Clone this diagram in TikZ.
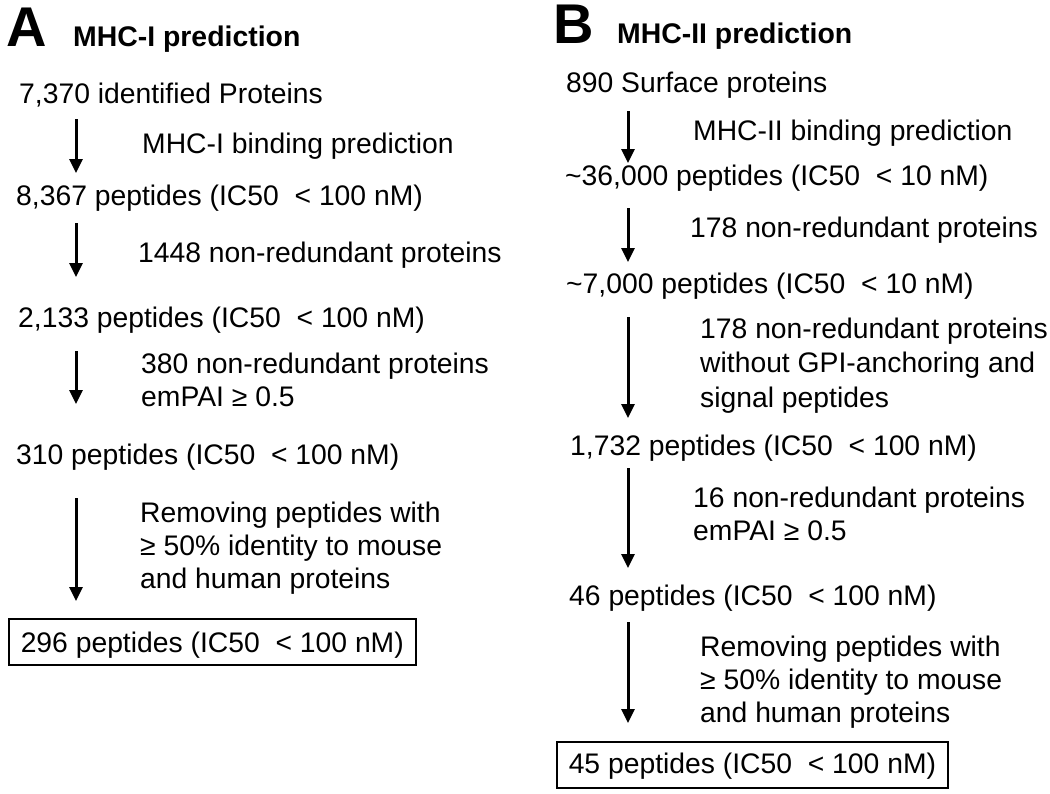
\documentclass[tikz,border=0pt]{standalone}
\usepackage{fontspec}
\setmainfont{Liberation Sans}
\usetikzlibrary{arrows.meta,calc}
\begin{document}
\begin{tikzpicture}[x=1pt,y=-1pt,
  txt/.style={anchor=base west,inner sep=0pt,font=\fontsize{28.3}{33}\selectfont,align=left},
  ttl/.style={anchor=base west,inner sep=0pt,font=\fontsize{28.4}{33}\selectfont\bfseries},
  panel/.style={anchor=base west,inner sep=0pt,font=\fontsize{56}{60}\selectfont\bfseries},
  arr/.style={-{Triangle[width=13pt,length=14pt]},line width=3pt},
  resbox/.style={draw,line width=1.5pt,anchor=base west,inner xsep=12pt,inner ysep=0pt,font=\fontsize{28.3}{33}\selectfont}]
\useasboundingbox (0,0) rectangle (1050,793);
\coordinate (axA) at (76,0);
\coordinate (axB) at (628,0);
% Panel A
\node[panel] (pA) at (6,46) {A};
\node[ttl] (tA) at (73,46) {MHC-I prediction};
\node[txt] (a1) at (19,103) {7,370 identified Proteins};
\node[txt] (la1) at (142,153) {MHC-I binding prediction};
\node[txt] (a2) at (16,205) {8,367 peptides (IC50\ \ < 100 nM)};
\node[txt] (la2) at (138,262) {1448 non-redundant proteins};
\node[txt] (a3) at (18,327) {2,133 peptides (IC50\ \ < 100 nM)};
\node[txt] (la3) at (141,406) {380 non-redundant proteins\\emPAI ≥ 0.5};
\node[txt] (a4) at (16,464) {310 peptides (IC50\ \ < 100 nM)};
\node[txt] (la4) at (140,588) {Removing peptides with\\≥ 50\% identity to mouse\\and human proteins};
\node[resbox,text height=33pt,text depth=13pt] (a5) at (8,652) {296 peptides (IC50\ \ < 100 nM)};
\draw[arr] ($(a1.base -| axA)+(0,16)$) -- ($(a2.base -| axA)+(0,-32)$);
\draw[arr] ($(a2.base -| axA)+(0,18)$) -- ($(a3.base -| axA)+(0,-50)$);
\draw[arr] ($(a3.base -| axA)+(0,24)$) -- ($(a4.base -| axA)+(0,-60)$);
\draw[arr] ($(a4.base -| axA)+(0,34)$) -- ($(a5.base -| axA)+(0,-51)$);
% Panel B
\node[panel] (pB) at (553,43) {B};
\node[ttl] (tB) at (617,43) {MHC-II prediction};
\node[txt] (b1) at (566,92) {890 Surface proteins};
\node[txt] (lb1) at (693,140) {MHC-II binding prediction};
\node[txt] (b2) at (565,185) {\textasciitilde36,000 peptides (IC50\ \ < 10 nM)};
\node[txt] (lb2) at (690,237) {178 non-redundant proteins};
\node[txt] (b3) at (566,293) {\textasciitilde7,000 peptides (IC50\ \ < 10 nM)};
\node[txt,font=\fontsize{28.3}{34.5}\selectfont] (lb3) at (700,407) {178 non-redundant proteins\\without GPI-anchoring and\\signal peptides};
\node[txt] (b4) at (570,455) {1,732 peptides (IC50\ \ < 100 nM)};
\node[txt] (lb4) at (693,540) {16 non-redundant proteins\\emPAI ≥ 0.5};
\node[txt] (b5) at (569,605) {46 peptides (IC50\ \ < 100 nM)};
\node[txt] (lb5) at (700,722) {Removing peptides with\\≥ 50\% identity to mouse\\and human proteins};
\node[resbox,text height=31pt,text depth=15pt] (b6) at (556,773) {45 peptides (IC50\ \ < 100 nM)};
\draw[arr] ($(b1.base -| axB)+(0,19)$) -- ($(b2.base -| axB)+(0,-22)$);
\draw[arr] ($(b2.base -| axB)+(0,23)$) -- ($(b3.base -| axB)+(0,-31)$);
\draw[arr] ($(b3.base -| axB)+(0,24)$) -- ($(b4.base -| axB)+(0,-37)$);
\draw[arr] ($(b4.base -| axB)+(0,13)$) -- ($(b5.base -| axB)+(0,-37)$);
\draw[arr] ($(b5.base -| axB)+(0,17)$) -- ($(b6.base -| axB)+(0,-50)$);
\end{tikzpicture}
\end{document}
